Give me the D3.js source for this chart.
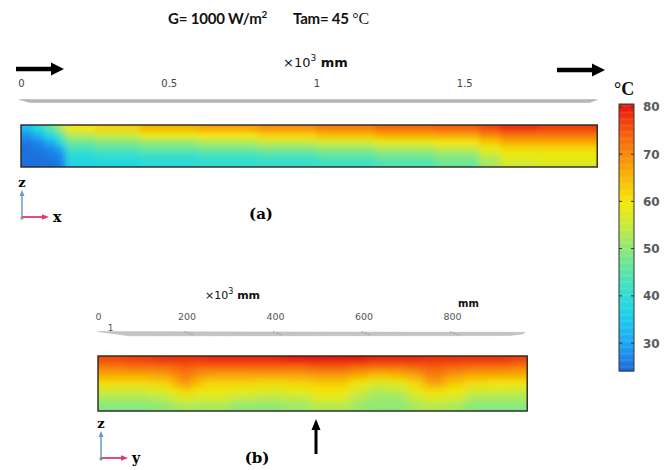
<!DOCTYPE html>
<html>
<head>
<meta charset="utf-8">
<script src="https://cdn.jsdelivr.net/npm/d3@7"></script>
<style>
  body { margin: 0; background: #fff; }
  svg { display: block; }
</style>
</head>
<body>
<div class="tempviz"></div>
<script>
// ---- data ----
// colour map (deg C -> colour), as in the colour bar
const tempStops = [24, 27, 30, 34, 38, 42, 46, 50, 54, 58, 60, 63, 66, 70, 74, 77, 80];
const stopColors = ["#1b66d6", "#1e86ea", "#1ea6f2", "#1cc4f0", "#24d8e0", "#3ee0c4", "#62e6a0", "#8ee878",
                    "#bcea48", "#e4ea18", "#f2e60a", "#f6cc06", "#f8ae06", "#f8880a", "#f6620c", "#f0400e", "#e6180e"];
const barTicks = [30, 40, 50, 60, 70, 80];

// (a) x-z section: column edges along x (mm), temperatures per column, rows top -> bottom
const xTicksA = [0, 500, 1000, 1500];
const xTickLabelsA = ["0", "0.5", "1", "1.5"];
const colEdgesA = [0, 40, 80, 120, 150, 250, 400, 600, 800, 1000, 1200, 1400, 1550, 1620, 1750, 1950];
const fieldA = [
  [33, 28, 26, 25, 25, 25],
  [38, 32, 27, 26, 25, 25],
  [45, 38, 31, 27, 26, 25],
  [52, 45, 38, 30, 27, 26],
  [60, 53, 47, 42, 39, 37],
  [62, 55, 49, 44, 40, 38],
  [65, 58, 51, 46, 41, 39],
  [67, 60, 53, 47, 42, 40],
  [69, 62, 55, 48, 43, 41],
  [71, 64, 56, 50, 45, 42],
  [73, 66, 58, 52, 47, 44],
  [74, 67, 60, 54, 49, 47],
  [76, 70, 63, 58, 54, 52],
  [78, 72, 66, 61, 58, 56],
  [77, 72, 66, 61, 59, 57]
];

// (b) y-z section
const yTicksB = [0, 200, 400, 600, 800];
const colEdgesB = [0, 60, 120, 160, 180, 215, 240, 300, 360, 420, 480, 530, 570, 610, 660, 700, 735, 785, 830, 880, 930, 970];
const fieldB = [
  [76, 71, 66, 61, 56, 52, 49],
  [77, 72, 66, 61, 56, 52, 49],
  [78, 72, 67, 62, 57, 53, 50],
  [78, 73, 69, 64, 59, 55, 51],
  [78, 74, 71, 68, 62, 57, 52],
  [78, 73, 69, 64, 60, 56, 52],
  [79, 73, 67, 62, 59, 56, 52],
  [79, 73, 67, 62, 58, 54, 50],
  [79, 73, 67, 61, 57, 53, 50],
  [80, 73, 67, 62, 58, 54, 51],
  [80, 74, 68, 63, 60, 57, 53],
  [80, 74, 68, 63, 60, 57, 53],
  [80, 73, 66, 60, 56, 53, 51],
  [79, 72, 64, 57, 53, 51, 50],
  [79, 72, 65, 58, 54, 51, 50],
  [79, 73, 67, 62, 58, 55, 52],
  [78, 74, 71, 67, 61, 57, 53],
  [78, 73, 68, 63, 59, 56, 52],
  [78, 72, 66, 61, 56, 52, 49],
  [78, 72, 66, 60, 56, 52, 49],
  [77, 71, 66, 60, 55, 52, 49]
];

// ---- drawing ----
const width = 672, height = 470;

const svg = d3.select(".tempviz")
  .append("svg")
  .attr("width", width)
  .attr("height", height);

const defs = svg.append("defs");

const color = d3.scaleLinear()
  .domain(tempStops)
  .range(stopColors)
  .interpolate(d3.interpolateRgb)
  .clamp(true);

const xA = d3.scaleLinear().domain([0, 1000]).range([21, 316.5]);
const xB = d3.scaleLinear().domain([0, 1000]).range([98, 540.5]);

function drawField(id, edges, values, xs, top, bottom, blur) {
  const nRows = values[0].length;
  const y = d3.scaleBand().domain(d3.range(nRows)).range([top, bottom]);
  const x0 = xs(edges[0]), x1 = xs(edges[edges.length - 1]);

  defs.append("clipPath").attr("id", "clip-" + id)
    .append("rect").attr("x", x0).attr("y", top).attr("width", x1 - x0).attr("height", bottom - top);
  defs.append("filter").attr("id", "blur-" + id)
    .attr("x", "-10%").attr("y", "-40%").attr("width", "120%").attr("height", "180%")
    .append("feGaussianBlur").attr("stdDeviation", blur);

  const cells = [];
  values.forEach((col, i) => col.forEach((v, j) => cells.push({ i, j, v })));

  const pad = 12;
  svg.append("g").attr("clip-path", `url(#clip-${id})`)
    .append("g").attr("filter", `url(#blur-${id})`)
    .selectAll("rect")
    .data(cells)
    .join("rect")
    .attr("x", d => xs(edges[d.i]) - (d.i === 0 ? pad : 0))
    .attr("y", d => y(d.j) - (d.j === 0 ? pad : 0))
    .attr("width", d => xs(edges[d.i + 1]) - xs(edges[d.i]) + 0.6 + (d.i === 0 || d.i === values.length - 1 ? pad : 0))
    .attr("height", d => y.bandwidth() + 0.6 + (d.j === 0 || d.j === nRows - 1 ? pad : 0))
    .attr("fill", d => color(d.v));

  svg.append("rect")
    .attr("x", x0).attr("y", top)
    .attr("width", x1 - x0).attr("height", bottom - top)
    .attr("fill", "none")
    .attr("stroke", "#2a2420")
    .attr("stroke-width", 1.4);
}

drawField("a", colEdgesA, fieldA, xA, 125, 167, "3 2.5");
drawField("b", colEdgesB, fieldB, xB, 356, 411, "4 3");

// title
const title = svg.append("text").attr("y", 24)
  .style("font-family", "Lato, 'Open Sans', sans-serif")
  .style("font-weight", 700).style("font-size", "15px").style("letter-spacing", "-0.2px").attr("fill", "#111");
title.append("tspan").attr("x", 168).text("G= 1000 W/m");
title.append("tspan").attr("dy", -6).style("font-size", "10px").text("2");
title.append("tspan").attr("x", 293).attr("dy", 6).text("Tam= 45 ");
title.append("tspan").style("font-family", "'Liberation Serif', serif").style("font-weight", 400).style("font-size", "16px").text("°C");

// arrow helper
function arrow(x1, y1, x2, y2, w, head, headW, fill) {
  const ang = Math.atan2(y2 - y1, x2 - x1);
  const len = Math.hypot(x2 - x1, y2 - y1);
  const p = d3.path();
  p.moveTo(0, -w / 2); p.lineTo(len - head, -w / 2); p.lineTo(len - head, -headW / 2);
  p.lineTo(len, 0); p.lineTo(len - head, headW / 2); p.lineTo(len - head, w / 2); p.lineTo(0, w / 2); p.closePath();
  svg.append("path").attr("d", p.toString())
    .attr("transform", `translate(${x1},${y1}) rotate(${ang * 180 / Math.PI})`)
    .attr("fill", fill);
}

// flow arrows
arrow(16, 69, 64, 69, 4.5, 13, 13, "#000");
arrow(557, 70, 605, 70, 4.5, 13, 13, "#000");
arrow(316, 454, 316, 419, 3, 11, 9, "#000");

// axis (a)
const axA = svg.append("g").attr("transform", "translate(0,90)")
  .call(d3.axisTop(xA).tickValues(xTicksA).tickSize(0).tickFormat((d, i) => xTickLabelsA[i]));
axA.select(".domain").remove();
axA.selectAll("text").style("font-family", "'DejaVu Sans', sans-serif").style("font-size", "10px").attr("fill", "#444");
svg.append("path")
  .attr("d", `M${xA(-5)},99.6 L${xA(1950)},99.6 L${xA(1925)},102.4 L${xA(30)},102.4 Z`)
  .attr("fill", "#b8b8b8").attr("stroke", "#9a9a9a").attr("stroke-width", 0.4);

const unitA = svg.append("text").attr("x", 283).attr("y", 67)
  .style("font-family", "'DejaVu Sans', sans-serif").style("font-size", "13px").attr("fill", "#111");
unitA.append("tspan").text("×10");
unitA.append("tspan").attr("dy", -6).style("font-size", "9px").text("3");
unitA.append("tspan").attr("dy", 6).style("font-weight", 700).text("  mm");

// axis (b)
const axB = svg.append("g").attr("transform", "translate(0,323)")
  .call(d3.axisTop(xB).tickValues(yTicksB).tickSize(0));
axB.select(".domain").remove();
axB.selectAll("text").style("font-family", "'DejaVu Sans', sans-serif").style("font-size", "9.5px").attr("fill", "#555");
svg.append("text").attr("x", xB(22)).attr("y", 331)
  .style("font-family", "'DejaVu Sans', sans-serif").style("font-size", "9px").attr("fill", "#555").text("1");
svg.append("path")
  .attr("d", `M${xB(0)},331.6 L${xB(965)},332.4 L${xB(960)},334 L${xB(930)},335.6 L${xB(70)},335.8 Z`)
  .attr("fill", "#c4c4c4").attr("stroke", "#a8a8a8").attr("stroke-width", 0.4);
svg.append("g").selectAll("line")
  .data(yTicksB.slice(1))
  .join("line")
  .attr("x1", d => xB(d) - 2).attr("y1", 331.5)
  .attr("x2", d => xB(d) + 8).attr("y2", 335.5)
  .attr("stroke", "#8a8a8a").attr("stroke-width", 0.7).attr("stroke-dasharray", "2,1.5");

const unitB = svg.append("text").attr("x", 205).attr("y", 299)
  .style("font-family", "'DejaVu Sans', sans-serif").style("font-size", "11px").attr("fill", "#111");
unitB.append("tspan").text("×10");
unitB.append("tspan").attr("dy", -5).style("font-size", "8px").text("3");
unitB.append("tspan").attr("dy", 5).style("font-weight", 700).text(" mm");
svg.append("text").attr("x", 458).attr("y", 307)
  .style("font-family", "'DejaVu Sans', sans-serif").style("font-size", "10px")
  .style("font-weight", 700).attr("fill", "#111").text("mm");

// colour bar
const yBar = d3.scaleLinear().domain([24.1, 80.6]).range([371, 104]);
const barX = 619, barW = 15;
svg.append("g").selectAll("rect")
  .data(d3.range(24.1, 80.6, 0.25))
  .join("rect")
  .attr("x", barX)
  .attr("y", d => yBar(d + 0.25))
  .attr("width", barW)
  .attr("height", d => yBar(d) - yBar(d + 0.25) + 0.4)
  .attr("fill", d => color(d + 0.125));
svg.append("rect").attr("x", barX).attr("y", yBar(80.6)).attr("width", barW).attr("height", yBar(24.1) - yBar(80.6))
  .attr("fill", "none").attr("stroke", "#333").attr("stroke-width", 1);
const tk = svg.append("g").selectAll("g").data(barTicks).join("g");
tk.append("line").attr("x1", barX).attr("x2", barX + 3).attr("y1", d => yBar(d)).attr("y2", d => yBar(d)).attr("stroke", "#333");
tk.append("line").attr("x1", barX + barW - 3).attr("x2", barX + barW).attr("y1", d => yBar(d)).attr("y2", d => yBar(d)).attr("stroke", "#333");
tk.append("text").attr("x", 643).attr("y", d => yBar(d) + 4.5)
  .style("font-family", "'DejaVu Sans', sans-serif").style("font-size", "12px").style("font-weight", 600)
  .attr("fill", "#5a5a5a").text(d => d);
svg.append("text").attr("x", 614).attr("y", 95)
  .style("font-family", "'Liberation Serif', serif").style("font-size", "18px").style("font-weight", 700)
  .attr("fill", "#111").text("°C");

// coordinate triads
function triad(ox, oy, hLabel) {
  svg.append("line").attr("x1", ox).attr("y1", oy).attr("x2", ox).attr("y2", oy - 22).attr("stroke", "#6a9ad0").attr("stroke-width", 1.5);
  svg.append("path").attr("d", `M${ox - 2.5},${oy - 21} L${ox},${oy - 27} L${ox + 2.5},${oy - 21} Z`).attr("fill", "#6a9ad0");
  svg.append("line").attr("x1", ox).attr("y1", oy).attr("x2", ox + 21).attr("y2", oy).attr("stroke", "#e0386e").attr("stroke-width", 1.8);
  svg.append("path").attr("d", `M${ox + 20},${oy - 2.8} L${ox + 27},${oy} L${ox + 20},${oy + 2.8} Z`).attr("fill", "#e0386e");
  svg.append("circle").attr("cx", ox).attr("cy", oy + 1).attr("r", 1.6).attr("fill", "#6aa86a");
  svg.append("text").attr("x", ox).attr("y", oy - 30).attr("text-anchor", "middle")
    .style("font-family", "'DejaVu Serif', serif").style("font-weight", 700).style("font-size", "13px").text("z");
  svg.append("text").attr("x", ox + 31).attr("y", oy + 5)
    .style("font-family", "'DejaVu Serif', serif").style("font-weight", 700).style("font-size", "14px").text(hLabel);
}
triad(22, 217, "x");
triad(101, 458, "y");

// panel labels
svg.append("text").attr("x", 261).attr("y", 219).attr("text-anchor", "middle")
  .style("font-family", "'DejaVu Serif', serif").style("font-weight", 700).style("font-size", "15px").text("(a)");
svg.append("text").attr("x", 257).attr("y", 463).attr("text-anchor", "middle")
  .style("font-family", "'DejaVu Serif', serif").style("font-weight", 700).style("font-size", "15px").text("(b)");
</script>
</body>
</html>
